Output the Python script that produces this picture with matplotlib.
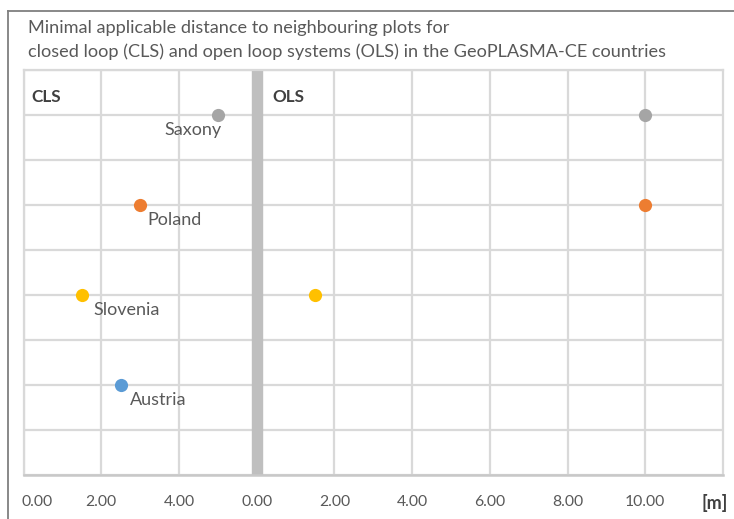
import matplotlib
matplotlib.use("Agg")
import matplotlib.pyplot as plt
from matplotlib.lines import Line2D
from matplotlib.transforms import ScaledTranslation

plt.rcParams['font.family'] = ['Lato', 'DejaVu Sans']

# --- data -------------------------------------------------------------
countries = ["Saxony", "Poland", "Slovenia", "Austria"]
cls_dist = [5.0, 3.0, 1.5, 2.5]          # closed loop systems [m]
ols_dist = [10.0, 10.0, 1.5, None]       # open loop systems [m]
rows = [8, 6, 4, 2]                      # vertical slot of each country
colors = ["#a5a5a5", "#ed7d31", "#ffc000", "#5b9bd5"]

cls_span = 6.0                           # width of the CLS panel on the shared axis
ols_span = 12.0
tick_values = [0, 2, 4, 0, 2, 4, 6, 8, 10]
tick_labels = ["0.00", "2.00", "4.00", "0.00", "2.00", "4.00", "6.00", "8.00", "10.00"]
title_lines = ["Minimal applicable distance to neighbouring plots for",
               "closed loop (CLS) and open loop systems (OLS) in the GeoPLASMA-CE countries"]

# label placement (offset in points, alignment)
label_style = {
    "Saxony":   ((3, -11), "right"),
    "Poland":   ((5, -11), "left"),
    "Slovenia": ((8.5, -10.5), "left"),
    "Austria":  ((7, -10.5), "left"),
}

W, H = 734, 519
fig = plt.figure(figsize=(W / 100, H / 100), dpi=100)
fig.patch.set_facecolor("white")

def fx(px):
    return px / W

def fy(py):
    return 1 - py / H

ax = fig.add_axes([fx(23.5), fy(475.3), fx(723) - fx(23.5), fy(69.5) - fy(475.3)])
ax.set_xlim(0, cls_span + ols_span)
ax.set_ylim(0, 9)

grid_c = "#d9d9d9"
xt = list(tick_values[:3]) + [cls_span + v for v in tick_values[3:]]
ax.set_xticks(xt)
ax.set_xticklabels(tick_labels)
ax.set_yticks(range(0, 10))
ax.set_yticklabels([])
ax.grid(True, color=grid_c, linewidth=1.6, zorder=0)
ax.set_axisbelow(True)
ax.tick_params(axis="both", length=0)
ax.tick_params(axis="x", pad=14, labelsize=11.3, labelcolor="#595959")
for s in ["left", "top", "right"]:
    ax.spines[s].set_color(grid_c)
    ax.spines[s].set_linewidth(1.6)
ax.spines["bottom"].set_color("#c8c8c8")
ax.spines["bottom"].set_linewidth(1.8)

# first label sits a bit inside the panel
lbl0 = ax.get_xticklabels()[0]
lbl0.set_transform(lbl0.get_transform() + ScaledTranslation(14 / 100, 0, fig.dpi_scale_trans))

# divider between the two panels
ax.axvline(cls_span, color="#bfbfbf", linewidth=8.2, zorder=1)

# points and country names
for name, c, o, r, col in zip(countries, cls_dist, ols_dist, rows, colors):
    ax.plot([c], [r], "o", color=col, markersize=9.5, markeredgewidth=0, zorder=3)
    if o is not None:
        ax.plot([cls_span + o], [r], "o", color=col, markersize=9.5, markeredgewidth=0, zorder=3)
    off, ha = label_style[name]
    ax.annotate(name, (c, r), xytext=off, textcoords="offset points",
                ha=ha, va="center", fontsize=13, color="#595959", zorder=4)

# panel captions
fig.text(fx(31.5), fy(97.5), "CLS", fontsize=12.3, fontweight="bold", color="#404040",
         ha="left", va="center")
fig.text(fx(272.5), fy(97.0), "OLS", fontsize=12.3, fontweight="bold", color="#404040",
         ha="left", va="center")

# unit
fig.text(fx(728), fy(502.5), "[m]", fontsize=13, fontweight="bold", color="#404040",
         ha="right", va="center")

# title
fig.text(fx(28), fy(27.5), title_lines[0], fontsize=13.1, color="#595959", ha="left", va="center")
fig.text(fx(28), fy(51.5), title_lines[1], fontsize=13.1, color="#595959", ha="left", va="center")

# outer frame (left and top edges)
frame_c = "#7f7f7f"
fig.add_artist(Line2D([fx(7.5), fx(7.5)], [fy(10.7), 0], transform=fig.transFigure,
                      color=frame_c, linewidth=1.3))
fig.add_artist(Line2D([fx(7.5), 1], [fy(10.7), fy(10.7)], transform=fig.transFigure,
                      color=frame_c, linewidth=1.3))

fig.savefig("out.png", dpi=100, facecolor="white")
